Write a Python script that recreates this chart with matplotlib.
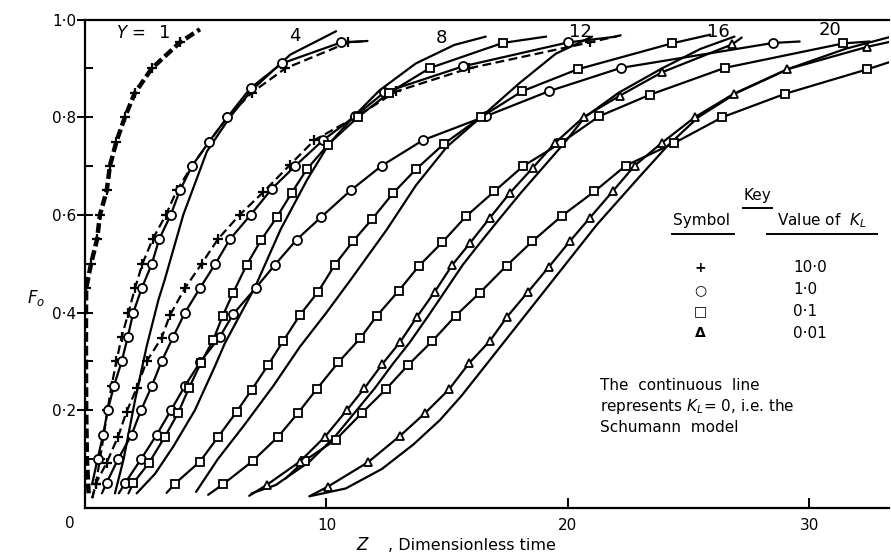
import matplotlib
matplotlib.use("Agg")
import matplotlib.pyplot as plt
from matplotlib.lines import Line2D

W, H = 891, 554

# ---- curves: Z (dimensionless time) vs F0 ----
# first and last point of each marker series are only line ends (no marker)

# Y = 1, K_L = 10  (thick dashed)
y1_plus_z = [0.15, 0.08, 0.05, 0.04, 0.04, 0.05, 0.25, 0.5, 0.62, 0.9, 1.03, 1.3, 1.65, 2.07, 2.77, 3.93, 4.76]
y1_plus_f = [0.03, 0.1, 0.2, 0.3, 0.4, 0.45, 0.5, 0.55, 0.6, 0.65, 0.7, 0.75, 0.8, 0.85, 0.9, 0.953, 0.98]

# Y = 4
y4_plus_z = [0.3, 0.45, 0.62, 0.78, 0.93, 1.1, 1.3, 1.52, 1.8, 2.07, 2.38, 2.8, 3.35, 3.8, 4.43, 5.15, 5.9, 6.9, 8.3, 10.9, 11.7]
y4_plus_f = [0.02, 0.05, 0.1, 0.15, 0.2, 0.25, 0.3, 0.35, 0.4, 0.45, 0.5, 0.55, 0.6, 0.65, 0.7, 0.75, 0.8, 0.85, 0.9, 0.953, 0.956]
y4_circ_z = [0.3, 0.52, 0.75, 0.94, 1.2, 1.52, 1.77, 2.0, 2.35, 2.77, 3.07, 3.55, 3.93, 4.43, 5.14, 5.9, 6.86, 8.15, 10.6, 11.7]
y4_circ_f = [0.05, 0.1, 0.15, 0.2, 0.25, 0.3, 0.35, 0.4, 0.45, 0.5, 0.55, 0.6, 0.65, 0.7, 0.75, 0.8, 0.86, 0.91, 0.953, 0.956]
y4_cont_z = [1.24, 1.6, 2.07, 2.55, 3.04, 3.3, 4.07, 5.05, 6.0, 6.9, 8.5, 10.4]
y4_cont_f = [0.03, 0.1, 0.22, 0.33, 0.426, 0.467, 0.6, 0.73, 0.8, 0.855, 0.928, 0.976]

# Y = 8
y8_plus_z = [0.3, 0.45, 0.9, 1.37, 1.72, 2.14, 2.55, 3.17, 3.52, 4.14, 4.83, 5.5, 6.4, 7.37, 8.5, 9.5, 11.2, 12.9, 15.9, 20.9, 22.4]
y8_plus_f = [0.02, 0.05, 0.093, 0.146, 0.197, 0.245, 0.3, 0.348, 0.395, 0.45, 0.5, 0.55, 0.6, 0.646, 0.703, 0.753, 0.8, 0.853, 0.9, 0.953, 0.97]
y8_circ_z = [0.7, 0.9, 1.37, 1.93, 2.32, 2.76, 3.17, 3.65, 4.14, 4.76, 5.4, 6.0, 6.86, 7.73, 8.7, 9.86, 11.18, 12.4, 15.65, 20.0, 22.0]
y8_circ_f = [0.03, 0.052, 0.1, 0.15, 0.2, 0.249, 0.3, 0.35, 0.4, 0.45, 0.5, 0.55, 0.6, 0.653, 0.7, 0.753, 0.802, 0.851, 0.904, 0.953, 0.965]
y8_sq_z = [1.8, 2.0, 2.66, 3.31, 3.86, 4.3, 4.8, 5.31, 5.7, 6.14, 6.7, 7.3, 7.94, 8.56, 9.18, 10.07, 11.3, 12.6, 14.3, 17.3, 19.1]
y8_sq_f = [0.03, 0.051, 0.093, 0.146, 0.195, 0.245, 0.297, 0.344, 0.393, 0.441, 0.498, 0.549, 0.595, 0.645, 0.693, 0.744, 0.8, 0.85, 0.901, 0.952, 0.965]
y8_cont_z = [2.14, 2.9, 3.66, 4.55, 5.38, 5.8, 7.04, 8.1, 9.2, 10.1, 11.1, 12.2, 13.7, 15.3, 16.6]
y8_cont_f = [0.03, 0.07, 0.126, 0.2, 0.29, 0.338, 0.452, 0.57, 0.672, 0.745, 0.8, 0.855, 0.91, 0.948, 0.965]

# Y = 12
y12_circ_z = [1.4, 1.66, 2.32, 2.97, 3.56, 4.14, 4.76, 5.59, 6.14, 7.08, 7.87, 8.76, 9.77, 11.0, 12.3, 14.0, 16.6, 19.2, 22.2, 28.5, 29.6]
y12_circ_f = [0.03, 0.051, 0.1, 0.15, 0.2, 0.25, 0.298, 0.351, 0.397, 0.451, 0.498, 0.549, 0.595, 0.65, 0.701, 0.753, 0.802, 0.853, 0.901, 0.952, 0.955]
y12_sq_z = [3.38, 3.73, 4.76, 5.52, 6.28, 6.9, 7.59, 8.21, 8.9, 9.66, 10.35, 11.1, 11.9, 12.77, 13.7, 14.88, 16.4, 18.1, 20.4, 24.3, 25.9]
y12_sq_f = [0.031, 0.05, 0.095, 0.146, 0.197, 0.242, 0.293, 0.342, 0.395, 0.443, 0.498, 0.546, 0.592, 0.645, 0.693, 0.746, 0.8, 0.853, 0.898, 0.951, 0.969]
y12_cont_z = [4.6, 5.5, 6.6, 7.8, 8.9, 10.0, 11.0, 12.5, 13.7, 15.0, 16.4, 18.0, 19.5, 21.0]
y12_cont_f = [0.033, 0.1, 0.17, 0.25, 0.33, 0.4, 0.467, 0.57, 0.66, 0.74, 0.8, 0.87, 0.93, 0.965]

# Y = 16
y16_sq_z = [5.1, 5.73, 6.94, 8.0, 8.83, 9.59, 10.49, 11.41, 12.08, 13.0, 13.84, 14.8, 15.78, 16.95, 18.15, 19.7, 21.3, 23.4, 26.5, 31.4, 32.5]
y16_sq_f = [0.027, 0.049, 0.096, 0.146, 0.195, 0.243, 0.298, 0.348, 0.393, 0.445, 0.496, 0.544, 0.597, 0.648, 0.7, 0.747, 0.802, 0.846, 0.901, 0.951, 0.955]
y16_tri_z = [6.8, 7.52, 8.9, 9.94, 10.84, 11.57, 12.32, 13.04, 13.76, 14.49, 15.22, 15.94, 16.77, 17.6, 18.54, 19.46, 20.65, 22.15, 23.9, 26.8, 27.2]
y16_tri_f = [0.025, 0.047, 0.095, 0.146, 0.2, 0.245, 0.295, 0.339, 0.392, 0.443, 0.498, 0.542, 0.594, 0.645, 0.696, 0.747, 0.8, 0.844, 0.892, 0.949, 0.963]
y16_cont_z = [6.9, 7.9, 9.3, 10.35, 11.25, 12.0, 12.75, 13.45, 14.2, 14.9, 15.65, 16.35, 17.2, 18.05, 18.95, 19.85, 20.7, 22.1, 23.9, 25.5, 26.9]
y16_cont_f = [0.03, 0.047, 0.095, 0.146, 0.2, 0.245, 0.295, 0.339, 0.392, 0.443, 0.498, 0.542, 0.594, 0.645, 0.696, 0.747, 0.8, 0.85, 0.9, 0.94, 0.965]

# Y = 20
y20_sq_z = [8.3, 9.1, 10.39, 11.46, 12.46, 13.39, 14.39, 15.36, 16.36, 17.46, 18.53, 19.75, 21.1, 22.4, 24.4, 26.4, 29.0, 32.4, 33.4]
y20_sq_f = [0.06, 0.097, 0.14, 0.194, 0.243, 0.293, 0.342, 0.394, 0.441, 0.496, 0.546, 0.598, 0.648, 0.701, 0.747, 0.8, 0.848, 0.898, 0.914]
y20_tri_z = [9.3, 10.07, 11.73, 13.03, 14.08, 15.08, 15.9, 16.77, 17.49, 18.36, 19.22, 20.08, 20.91, 21.85, 22.77, 23.88, 25.26, 26.87, 29.08, 32.4, 33.4]
y20_tri_f = [0.024, 0.044, 0.094, 0.147, 0.194, 0.243, 0.296, 0.342, 0.392, 0.443, 0.494, 0.546, 0.594, 0.648, 0.701, 0.747, 0.8, 0.848, 0.898, 0.944, 0.955]
y20_cont_z = [9.3, 10.8, 12.3, 13.6, 14.7, 15.6, 16.4, 17.2, 18.0, 18.8, 19.6, 20.4, 21.2, 22.1, 23.0, 24.1, 25.4, 27.0, 29.2, 31.5, 33.4]
y20_cont_f = [0.024, 0.04, 0.08, 0.13, 0.18, 0.23, 0.28, 0.33, 0.38, 0.43, 0.48, 0.53, 0.58, 0.63, 0.68, 0.74, 0.8, 0.85, 0.9, 0.94, 0.965]

y_labels = ["1", "4", "8", "12", "16", "20"]
key_values = ["10\u00b70", "1\u00b70", "0\u00b71", "0\u00b701"]
key_symbols = ["+", "\u25cb", "\u25a1", "\u0394"]

# ---------------------------------------------------------------
fig = plt.figure(figsize=(W / 100, H / 100), dpi=100)
ax = fig.add_axes([85 / W, 46 / H, 804 / W, 488.5 / H])
ax.set_xlim(0, 33.3)
ax.set_ylim(0, 1.0)


def px(x, y):
    return x / W, 1 - y / H


def curve(z, f, marker=None, dashed=False, lw=1.6, ms=6, idx=None):
    kw = dict(color="black", lw=lw, solid_capstyle="round", dash_capstyle="butt")
    if dashed:
        kw["dashes"] = (4, 2)
    if marker is None:
        ax.plot(z, f, **kw)
        return
    if idx is None:
        idx = list(range(1, len(z) - 1))
    mew = 1.6 if marker == "+" else 1.3
    ax.plot(z, f, marker=marker, markevery=idx, ms=ms, mfc="white",
            mec="black", mew=mew, **kw)


# continuous (Schumann) lines
for z, f in [(y4_cont_z, y4_cont_f), (y8_cont_z, y8_cont_f), (y12_cont_z, y12_cont_f),
             (y16_cont_z, y16_cont_f), (y20_cont_z, y20_cont_f)]:
    curve(z, f)

# K_L = 10 (dashed, +)
idx1 = [i for i, v in enumerate(y1_plus_f) if 0.44 < v < 0.97]
ax.plot(y1_plus_z, y1_plus_f, color="black", lw=3.2, dashes=(2.2, 0.9),
        marker="+", markevery=idx1, ms=7.5, mew=1.6)
curve(y4_plus_z, y4_plus_f, "+", dashed=True, ms=7.5)
curve(y8_plus_z, y8_plus_f, "+", dashed=True, ms=7.5)

# K_L = 1 (circles)
curve(y4_circ_z, y4_circ_f, "o", ms=6.5)
curve(y8_circ_z, y8_circ_f, "o", ms=6.5)
curve(y12_circ_z, y12_circ_f, "o", ms=6.5)

# K_L = 0.1 (squares)
curve(y8_sq_z, y8_sq_f, "s", ms=6)
curve(y12_sq_z, y12_sq_f, "s", ms=6)
curve(y16_sq_z, y16_sq_f, "s", ms=6)
curve(y20_sq_z, y20_sq_f, "s", ms=6)

# K_L = 0.01 (triangles)
curve(y16_tri_z, y16_tri_f, "^", ms=5.5)
curve(y20_tri_z, y20_tri_f, "^", ms=5.5)

# axes styling
for s in ["left", "bottom", "top"]:
    ax.spines[s].set_linewidth(1.6)
ax.spines["right"].set_visible(False)

ax.set_yticks([0.2, 0.4, 0.6, 0.8, 1.0])
ax.set_yticklabels(["0\u00b72", "0\u00b74", "0\u00b76", "0\u00b78", "1\u00b70"], fontsize=11)
ax.set_yticks([0.1, 0.3, 0.5, 0.7, 0.9], minor=True)
ax.tick_params(axis="y", which="major", direction="inout", length=11, width=1.4, pad=1)
ax.tick_params(axis="y", which="minor", direction="in", length=6, width=1.4)
ax.set_xticks([10, 20, 30])
ax.set_xticklabels(["10", "20", "30"], fontsize=11)
ax.tick_params(axis="x", which="major", direction="in", length=7, width=1.4, pad=7)

fig.text(*px(70, 523), "0", fontsize=11, ha="center", va="center")
fig.text(*px(36, 298), r"$F_o$", fontsize=12, ha="center", va="center")
fig.text(*px(363, 545), r"$Z$", fontsize=12, ha="center", va="center")
fig.text(*px(388, 546), ", Dimensionless time", fontsize=11.5, ha="left", va="center")

# Y labels along the top
fig.text(*px(131, 33), r"$Y$ =", fontsize=12, ha="center", va="center")
for lab, (x, y) in zip(y_labels, [(165, 33), (295, 36), (441, 38), (580, 32), (718, 32), (830, 30)]):
    fig.text(*px(x, y), lab, fontsize=13, ha="center", va="center")

# key
fig.text(*px(757, 196), "Key", fontsize=11, ha="center", va="center")
fig.text(*px(702, 221), "Symbol", fontsize=11, ha="center", va="center")
fig.text(*px(822, 221), r"Value of  $K_L$", fontsize=11, ha="center", va="center")
for x0, x1, y in [(743, 772, 208), (672, 734, 234), (767, 877, 234)]:
    fig.add_artist(Line2D([x0 / W, x1 / W], [1 - y / H, 1 - y / H], color="black", lw=1.4))
for i, (sym, val) in enumerate(zip(key_symbols, key_values)):
    y = 268 + 21.7 * i
    fig.text(*px(700, y), sym, fontsize=10, ha="center", va="center", fontweight="bold")
    fig.text(*px(793, y), val, fontsize=11, ha="left", va="center")

fig.text(*px(600, 385), "The  continuous  line", fontsize=11, ha="left", va="center")
fig.text(*px(600, 407), r"represents $K_L$= 0, i.e. the", fontsize=11, ha="left", va="center")
fig.text(*px(600, 428), "Schumann  model", fontsize=11, ha="left", va="center")

fig.savefig("out.png", dpi=100)
